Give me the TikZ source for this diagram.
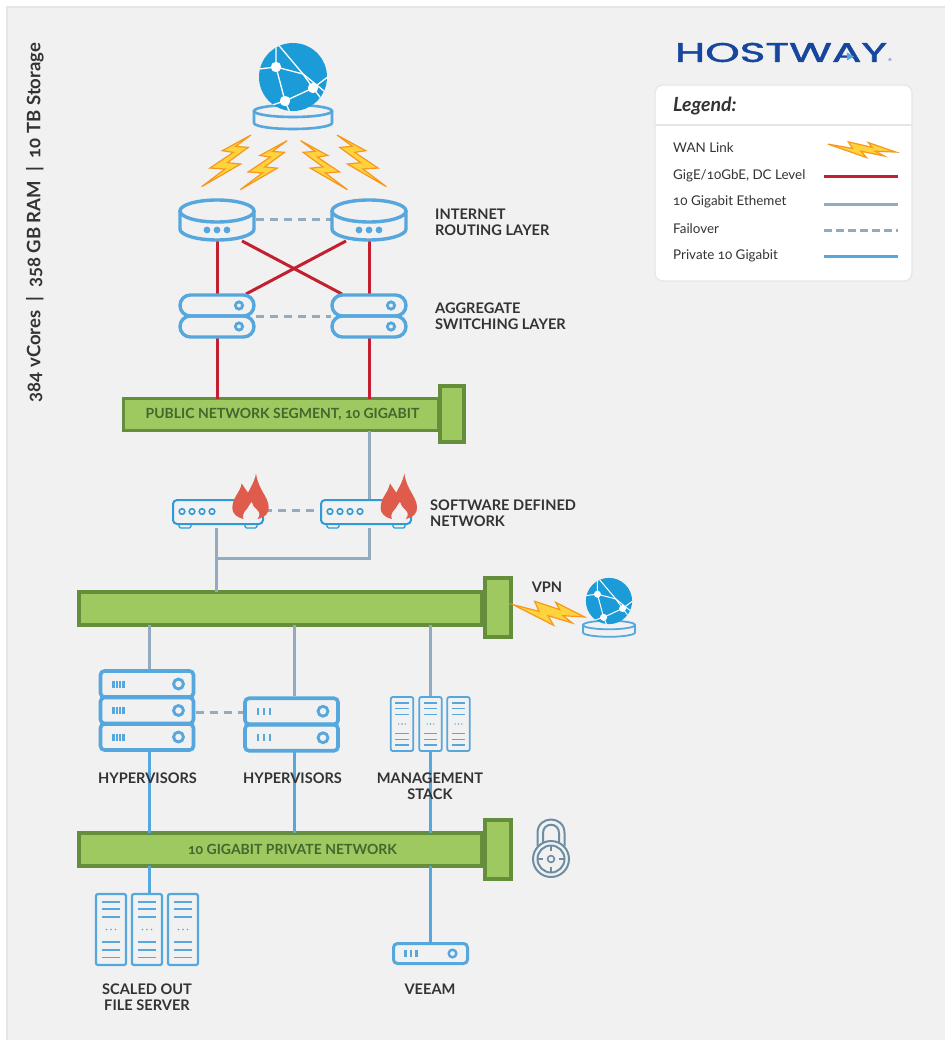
\documentclass[tikz,border=0pt]{standalone}
\usepackage{fontspec}
\usepackage{graphicx}
\setmainfont[Numbers=OldStyle]{Lato}
\newfontfamily\logofont[FakeBold=1.6]{Poppins}
\usetikzlibrary{calc}
\definecolor{panelgray}{HTML}{F1F1F1}
\definecolor{panelline}{HTML}{E6E6E6}
\definecolor{iconblue}{HTML}{55A7DD}
\definecolor{fwblue}{HTML}{2E9BD6}
\definecolor{globeblue}{HTML}{1B9BD8}
\definecolor{linkred}{HTML}{C3202F}
\definecolor{linkgray}{HTML}{93ABC0}
\definecolor{barfill}{HTML}{9DC960}
\definecolor{barline}{HTML}{658E3C}
\definecolor{bartext}{HTML}{44662F}
\definecolor{labeltext}{HTML}{333333}
\definecolor{flamered}{HTML}{DF5B4C}
\definecolor{lockgray}{HTML}{6E8DA2}
\definecolor{boltfill}{HTML}{FFD33D}
\definecolor{boltline}{HTML}{F7981D}
\definecolor{logoblue}{HTML}{17469E}
\tikzstyle{iconbox}=[rectangle,inner sep=0pt,outer sep=0pt]
\tikzstyle{segment}=[rectangle,fill=barfill,draw=barline,inner sep=0pt,outer sep=0pt]
\tikzstyle{redlink}=[draw=linkred,line width=3pt]
\tikzstyle{graylink}=[draw=linkgray,line width=3pt]
\tikzstyle{bluelink}=[draw=iconblue,line width=3pt]
\tikzstyle{faillink}=[draw=linkgray,line width=3pt,dash pattern=on 8pt off 6pt]
\tikzstyle{tag}=[font=\fontsize{14.6}{16}\selectfont\bfseries,text=labeltext,inner sep=0pt,align=center]
\tikzstyle{legendtag}=[font=\fontsize{13.4}{15}\selectfont,text=labeltext,inner sep=0pt,anchor=west]
\tikzstyle{bartag}=[font=\fontsize{14}{16}\selectfont\bfseries,text=bartext,inner sep=0pt]
\tikzstyle{boltstyle}=[fill=boltfill,draw=boltline,line width=1.2pt]
\tikzset{
  pics/cyl/.style n args={4}{code={
    \draw[draw=iconblue,line width=#4] (0,0) ellipse [x radius=#1,y radius=#2];
    \draw[draw=iconblue,line width=#4] ({-#1},0) -- ({-#1},#3)
      .. controls ({-#1},{#3+.55*#2}) and ({-.55*#1},{#3+#2}) .. (0,{#3+#2})
      .. controls ({.55*#1},{#3+#2}) and (#1,{#3+.55*#2}) .. (#1,#3) -- (#1,0);
  }},
  pics/routerdots/.style={code={
    \foreach \x in {-10,0,10}
      \fill[iconblue] (\x,0) circle (3.4);
  }},
  pics/pillstack/.style={code={
    \foreach \y in {-21,0}
      \draw[draw=iconblue,line width=3.4pt,rounded corners=10.5pt] (-37,\y) rectangle (37,\y+21);
    \foreach \y in {-10.5,10.5}
      \draw[draw=iconblue,line width=2.8pt] (22,\y) circle (3.6);
  }},
  pics/srvrow/.style n args={4}{code={
    \draw[draw=iconblue,line width=#3,rounded corners=4pt] ({-#1},{-#2}) rectangle (#1,#2);
    \draw[draw=iconblue,line width=.8*#3] ({#1-15},0) circle ({#2*.38});
    \foreach \x in {#4}
      \draw[draw=iconblue,line width=2.2pt] ({-#1+\x},-3.5) -- ({-#1+\x},3.5);
  }},
  pics/tower/.style n args={4}{code={
    \draw[draw=iconblue,line width=#3,rounded corners=2pt] ({-#1},{-#2}) rectangle (#1,#2);
    \foreach \k in {.107,.214,.321,.679,.786,.893}
      \draw[draw=iconblue,line width=#4] ({-.6*#1},{-#2+2*#2*\k}) -- ({.6*#1},{-#2+2*#2*\k});
    \foreach \x in {-.3,0,.3}
      \fill[iconblue] ({\x*#1},0) circle (.8);
  }},
  pics/globe/.style={code={
    \fill[globeblue] (0,0) circle (34);
    \begin{scope}
      \clip (0,0) circle (34);
      \draw[white,line width=#1] (-17,-35) -- (-17,-10) -- (-34,-8);
      \draw[white,line width=#1] (-17,-10) -- (-8,24) -- (20,11) -- (10,-3) -- (-17,-10);
      \draw[white,line width=#1] (-17,-35) -- (10,-3) -- (36,18);
      \draw[white,line width=#1] (-8,24) -- (-24,29);
      \draw[white,line width=#1] (-8,24) -- (-3,36);
      \draw[white,line width=#1] (20,11) -- (36,-1);
      \draw[white,line width=#1] (20,11) -- (30,24);
    \end{scope}
    \foreach \x/\y in {-17/-10,20/11,-8/24}
      \fill[white] (\x,\y) circle (5.2);
  }},
  pics/globe/.default=1.3pt,
  pics/flame/.style={code={
    \begin{scope}[x=.3333pt,y=-.3333pt]
      \fill[flamered] (18,-70) .. controls (14,-45) and (0,-25) .. (-6,-12)
        .. controls (-12,-22) and (-20,-30) .. (-25,-40)
        .. controls (-30,-10) and (-53,0) .. (-53,35)
        .. controls (-53,50) and (-40,62) .. (-20,67)
        .. controls (-25,50) and (-12,40) .. (-8,35)
        .. controls (-5,28) and (0,22) .. (5,15)
        .. controls (8,25) and (12,32) .. (20,38)
        .. controls (32,48) and (30,58) .. (22,67)
        .. controls (45,62) and (58,50) .. (56,30)
        .. controls (55,0) and (25,-20) .. (18,-70) -- cycle;
    \end{scope}
  }},
  pics/bolt/.style={code={
    \begin{scope}[x=.3333pt,y=-.3333pt]
      \filldraw[boltstyle] (74,-77) -- (-12,-30) -- (21,-25) -- (-49,22) -- (-4,25)
        -- (-74,78) -- (43,10) -- (3,6) -- (66,-40) -- (28,-43) -- cycle;
    \end{scope}
  }},
  pics/longbolt/.style={code={
    \begin{scope}[x=.3333pt,y=-.3333pt]
      \filldraw[boltstyle] (-108,-25) -- (-30,-5) -- (-43,-35) -- (32,-10) -- (20,-32)
        -- (107,12) -- (42,8) -- (70,30) -- (-3,8) -- (14,37) -- cycle;
    \end{scope}
  }}
}

\begin{document}
\begin{tikzpicture}[x=1pt,y=-1pt]
  \useasboundingbox (0,0) rectangle (945,1040);
  \fill[white] (0,0) rectangle (945,1040);
  \fill[panelgray] (7,7) rectangle (945,1040);
  \draw[panelline,line width=2pt] (7,1040) -- (7,7) -- (945,7);

  \foreach \x/\y/\w/\h/\name in {217/220/77/42/rt1, 369/220/77/42/rt2, 217/316/77/44/sw1, 369/316/77/44/sw2,
      218/513.5/92/29/fw1, 366/513.5/92/29/fw2, 147/710.5/97/83/hv1, 291.5/724/97/56/hv2,
      430.5/724/81/56/mgmt, 147/929.5/104/73/fs, 430.5/953.5/77/23/veeam}
    \node[iconbox,minimum width=\w pt,minimum height=\h pt] (\name) at (\x,\y) {};

  \foreach \x/\y/\w/\h/\lw/\name in {281/414.5/315/32/3/pub, 452/414/24/56/4/pubcap,
      280.5/608.5/403/33/4/core, 498/607.5/26/59/4/corecap,
      280.5/849.5/403/33/4/priv, 498/849.5/26/59/4/privcap}
    \node[segment,line width=\lw pt,minimum width=\w pt,minimum height=\h pt] (\name) at (\x,\y) {};

  \foreach \source/\dest in {rt1/sw1, rt2/sw2}
    \draw[redlink] (\source) -- (\dest);
  \foreach \source in {sw1, sw2}
    \draw[redlink] (\source.south) -- (\source.south |- pub.north);
  \draw[redlink] ([xshift=25pt]rt1.south) -- ([xshift=-27pt]sw2.north);
  \draw[redlink] ([xshift=-23pt]rt2.south) -- ([xshift=29pt]sw1.north);

  \foreach \source/\dest in {rt1/rt2, sw1/sw2}
    \draw[faillink] (\source.east) -- (\dest.west);
  \draw[faillink] ([yshift=3.5pt]fw1.east) -- ([yshift=3.5pt]fw2.west);
  \draw[faillink] ([yshift=-1.5pt]hv1.east) -- ([yshift=-1.5pt]hv1.east -| hv2.west);

  \coordinate (fwjoin) at (216,558);
  \draw[graylink] ([xshift=3pt]fw2.north |- pub.south) -- ([xshift=3pt]fw2.north);
  \draw[graylink] ([xshift=-2pt]fw1.south) -- ([xshift=-2pt]fw1.south |- core.north);
  \draw[graylink] ([xshift=3pt]fw2.south) |- (fwjoin);
  \draw[graylink] ([xshift=2pt]hv1.north |- core.south) -- ([xshift=2pt]hv1.north);
  \draw[graylink] ([xshift=2.5pt]hv2.north |- core.south) -- ([xshift=2.5pt]hv2.north);
  \draw[graylink] (mgmt.north |- core.south) -- (mgmt.north);

  \draw[bluelink] ([xshift=2pt]hv1.south) -- ([xshift=2pt]hv1.south |- priv.north);
  \draw[bluelink] ([xshift=2.5pt]hv2.south) -- ([xshift=2.5pt]hv2.south |- priv.north);
  \draw[bluelink] (mgmt.south) -- (mgmt.south |- priv.north);
  \draw[bluelink] ([xshift=2pt]fs.north |- priv.south) -- ([xshift=2pt]fs.north);
  \draw[bluelink] (veeam.north |- priv.south) -- (veeam.north);

  \foreach \x/\y in {217/211, 369/211}
    \pic at (\x,\y) {cyl={37}{11}{18}{3.4pt}};
  \foreach \x in {217, 369}
    \pic at (\x,230) {routerdots};
  \foreach \x in {217, 369}
    \pic at (\x,316) {pillstack};

  \pic at (293,111) {cyl={39}{6}{12}{2.6pt}};
  \pic at (293,77) {globe};
  \pic at (609,625) {cyl={26}{4.3}{7.5}{1.8pt}};
  \pic[scale=.68] at (609,601) {globe=1pt};

  \pic at (226.3,160.7) {bolt};
  \pic[scale=.95] at (263.7,165) {bolt};
  \pic[xscale=-.95,yscale=.95] at (324,165) {bolt};
  \pic[xscale=-1] at (361.7,160.7) {bolt};
  \pic at (549,613) {longbolt};

  \foreach \x/\name in {218/fw1, 366/fw2} {
    \draw[draw=fwblue,line width=2pt,rounded corners=4pt] (\x-45,500) rectangle (\x+45,524);
    \draw[draw=fwblue,line width=1.4pt,rounded corners=1.5pt] (\x-39,524) -- (\x-39,528) -- (\x-27,528) -- (\x-27,524);
    \draw[draw=fwblue,line width=1.4pt,rounded corners=1.5pt] (\x+27,524) -- (\x+27,528) -- (\x+39,528) -- (\x+39,524);
    \foreach \dx in {-36,-26,-16,-6}
      \draw[draw=fwblue,line width=1.6pt] (\x+\dx,511.5) circle (2.8);
  }
  \foreach \x in {250, 398.3}
    \pic at (\x,496.7) {flame};

  \foreach \y in {684, 710.5, 737}
    \pic at (147,\y) {srvrow={46.5}{13}{3.6pt}{13,16.3,19.6,22.9}};
  \foreach \y in {711.25, 737.75}
    \pic at (291.5,\y) {srvrow={46.5}{13}{3.6pt}{13,19,25}};
  \pic at (430.5,953.5) {srvrow={37}{10}{3pt}{12,17.5,23}};
  \foreach \x in {402, 430.5, 458.5}
    \pic at (\x,724) {tower={11.2}{27}{1.8pt}{1.5pt}};
  \foreach \x in {111, 147, 183}
    \pic at (\x,929.5) {tower={15}{35.5}{2.2pt}{1.8pt}};

  \draw[draw=lockgray,line width=2pt] (537.5,846) -- (537.5,833) .. controls (537.5,815) and (564.5,815) .. (564.5,833) -- (564.5,846);
  \draw[draw=lockgray,line width=2pt] (543,842) -- (543,833) .. controls (543,822) and (559,822) .. (559,833) -- (559,842);
  \draw[draw=lockgray,line width=2pt] (551,859) circle (18);
  \draw[draw=lockgray,line width=2pt] (551,859) circle (13.5);
  \draw[draw=lockgray,line width=1.6pt] (551,859) circle (3.4);
  \foreach \a/\b in {-13/0,13/0,0/-13,0/13}
    \draw[draw=lockgray,line width=1.6pt] (551+\a,859+\b) -- (551+\a*.6,859+\b*.6);

  \node[tag,align=left,anchor=west] (routinglabel) at (435,222) {INTERNET\\ROUTING LAYER};
  \node[tag,align=left,anchor=west] (switchlabel) at (435,316) {AGGREGATE\\SWITCHING LAYER};
  \node[tag,align=left,anchor=west] (sdnlabel) at (430,513) {SOFTWARE DEFINED\\NETWORK};
  \node[tag] (vpnlabel) at (547,587) {VPN};
  \node[tag] (hvlabela) at (147.5,778) {HYPERVISORS};
  \node[tag] (hvlabelb) at (292.5,778) {HYPERVISORS};
  \node[tag] (mgmtlabel) at (430,786) {MANAGEMENT\\STACK};
  \node[tag] (fslabel) at (147,997) {SCALED OUT\\FILE SERVER};
  \node[tag] (veeamlabel) at (430,989) {VEEAM};
  \node[bartag] (publabel) at (282.5,414.5) {PUBLIC NETWORK SEGMENT, 10 GIGABIT};
  \node[bartag] (privlabel) at (292.5,849.5) {10 GIGABIT PRIVATE NETWORK};
  \node[tag,font=\fontsize{18.5}{20}\selectfont\bfseries,rotate=90] (specs) at (35,222.5) {384 vCores\ \ |\ \ 358 GB RAM\ \ |\ \ 10 TB Storage};

  \node[inner sep=0pt,text=logoblue] (logo) at (781,52.5) {\resizebox{212pt}{19pt}{\logofont HOSTWAY}};
  \fill[iconblue] (847,52.5) -- (854,56.5) -- (847,60.5) -- cycle;
  \node[inner sep=0pt,text=logoblue,font=\fontsize{4}{4}\selectfont] (regmark) at (890,60.5) {®};

  \node[iconbox,fill=white,draw=panelline,line width=1.2pt,rounded corners=8pt,minimum width=257pt,minimum height=196pt] (legendbox) at (783.5,183) {};
  \coordinate (legendl) at (655,125);
  \coordinate (legendr) at (912,125);
  \draw[panelline,line width=1.2pt] (legendl) -- (legendr);
  \node[inner sep=0pt,anchor=west,text=labeltext,font=\fontsize{19.5}{21}\selectfont\bfseries\itshape] (legendtitle) at (673,106) {Legend:};
  \foreach \y/\name/\label in {148/wan/WAN Link, 175.5/gige/{GigE/10GbE, DC Level}, 202/tengig/10 Gigabit Ethemet,
      229/fail/Failover, 255.5/pvt/Private 10 Gigabit}
    \node[legendtag] (\name) at (673,\y) {\label};
  \pic[xscale=.95,yscale=.65] at (862,149.5) {longbolt};
  \foreach \y/\name in {176.7/gige, 204.6/tengig, 230.7/fail, 256.7/pvt} {
    \coordinate (\name a) at (824,\y);
    \coordinate (\name b) at (898,\y);
  }
  \draw[redlink] (gigea) -- (gigeb);
  \draw[graylink] (tengiga) -- (tengigb);
  \draw[graylink,dash pattern=on 8pt off 4pt] (faila) -- (failb);
  \draw[bluelink] (pvta) -- (pvtb);
\end{tikzpicture}
\end{document}
